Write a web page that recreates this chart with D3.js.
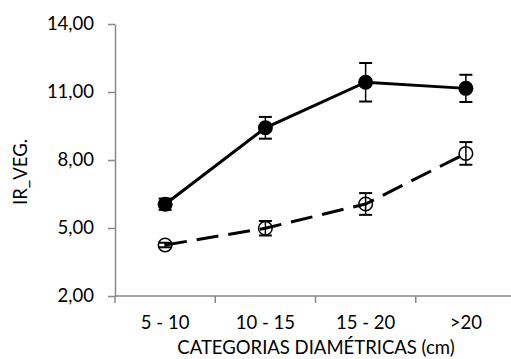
<!DOCTYPE html>
<html>
<head>
<meta charset="utf-8">
<script src="https://cdn.jsdelivr.net/npm/d3@7"></script>
<style>
  html, body { margin: 0; padding: 0; background: #fff; }
  svg { display: block; font-family: Lato, "Open Sans", sans-serif; }
</style>
</head>
<body>
<svg id="chart" width="511" height="359"></svg>
<script>
// Diameter classes and mean IR_VEG per class, two groups
const categories = ["5 - 10", "10 - 15", "15 - 20", ">20"];
const filledValues = [6.05, 9.42, 11.43, 11.16];
const filledErrors = [0.25, 0.48, 0.85, 0.60];
const openValues = [4.25, 4.99, 6.06, 8.29];
const openErrors = [0.10, 0.32, 0.48, 0.50];
const yTicks = [2, 5, 8, 11, 14];

const svg = d3.select("#chart");
const axisColor = "#888888";
const fontSize = 18.5;

const x = d3.scaleBand().domain(categories).range([115, 516]);
const y = d3.scaleLinear().domain([2, 14]).range([296, 24]);

const locale = d3.formatLocale({ decimal: ",", thousands: ".", grouping: [3], currency: ["", ""] });
const fmt = locale.format(".2f");

// Y axis
const yAxis = svg.append("g")
  .attr("transform", "translate(115,0)")
  .call(d3.axisLeft(y).tickValues(yTicks).tickFormat(fmt).tickSizeInner(7).tickSizeOuter(0).tickPadding(14));
yAxis.select(".domain").attr("stroke", axisColor).attr("stroke-width", 1.5);
yAxis.selectAll(".tick line").attr("stroke", axisColor).attr("stroke-width", 1.5);
yAxis.selectAll(".tick text").attr("fill", "#000").attr("font-size", fontSize).attr("font-family", "Lato, sans-serif");

// X axis: ticks sit on category boundaries
const xAxisG = svg.append("g").attr("transform", "translate(0,296)");
xAxisG.append("line")
  .attr("x1", x.range()[0]).attr("x2", x.range()[1])
  .attr("stroke", axisColor).attr("stroke-width", 1.5);
const boundaries = categories.map(c => x(c)).concat([x.range()[1]]);
xAxisG.selectAll("line.tk").data(boundaries).join("line")
  .attr("class", "tk")
  .attr("x1", d => d).attr("x2", d => d)
  .attr("y1", 0).attr("y2", 7)
  .attr("stroke", axisColor).attr("stroke-width", 1.5);
xAxisG.selectAll("text").data(categories).join("text")
  .attr("x", d => x(d) + x.bandwidth() / 2)
  .attr("y", 33)
  .attr("text-anchor", "middle")
  .attr("font-size", fontSize)
  .text(d => d);

// Axis titles
svg.append("text")
  .attr("x", 316).attr("y", 354)
  .attr("text-anchor", "middle")
  .attr("font-size", fontSize)
  .text("CATEGORIAS DIAMÉTRICAS (cm)");
svg.append("text")
  .attr("transform", "translate(27,172) rotate(-90)")
  .attr("text-anchor", "middle")
  .attr("font-size", fontSize)
  .text("IR_VEG.");

const cx = c => x(c) + x.bandwidth() / 2;

function drawSeries(values, errors, filled, dashed) {
  const pts = categories.map((c, i) => ({ c, v: values[i], e: errors[i] }));
  const line = d3.line().x(d => cx(d.c)).y(d => y(d.v));
  svg.append("path")
    .datum(pts)
    .attr("d", line)
    .attr("fill", "none")
    .attr("stroke", "#000")
    .attr("stroke-width", 3)
    .attr("stroke-dasharray", dashed ? "22,10" : null);

  const g = svg.append("g");
  const eb = g.selectAll("g.err").data(pts).join("g").attr("class", "err");
  eb.append("line")
    .attr("x1", d => cx(d.c)).attr("x2", d => cx(d.c))
    .attr("y1", d => y(d.v - d.e)).attr("y2", d => y(d.v + d.e))
    .attr("stroke", "#000").attr("stroke-width", 1.5);
  [1, -1].forEach(s => {
    eb.append("line")
      .attr("x1", d => cx(d.c) - 6.5).attr("x2", d => cx(d.c) + 6.5)
      .attr("y1", d => y(d.v + s * d.e)).attr("y2", d => y(d.v + s * d.e))
      .attr("stroke", "#000").attr("stroke-width", 2);
  });

  g.selectAll("circle").data(pts).join("circle")
    .attr("cx", d => cx(d.c)).attr("cy", d => y(d.v))
    .attr("r", filled ? 7.5 : 6.8)
    .attr("fill", filled ? "#000" : "none")
    .attr("stroke", "#000")
    .attr("stroke-width", filled ? 0 : 1.5);
}

drawSeries(openValues, openErrors, false, true);
drawSeries(filledValues, filledErrors, true, false);
</script>
</body>
</html>
